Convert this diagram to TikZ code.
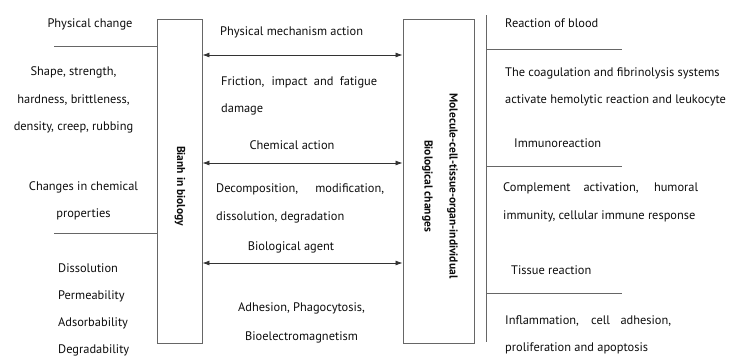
\documentclass[tikz,border=0pt]{standalone}
\usepackage{fontspec}
\setmainfont{PT Sans}
\usetikzlibrary{arrows.meta, positioning}

\begin{document}
\begin{tikzpicture}[
    x=1pt, y=-1pt,
    box/.style={draw=black!60, line width=0.9pt, minimum width=45pt, minimum height=324pt, inner sep=0pt},
    rule/.style={draw=black!60, line width=0.9pt},
    arrow/.style={{Latex[length=7pt,width=5pt]}-{Latex[length=7pt,width=5pt]}, line width=0.8pt, draw=black!80},
    txt/.style={font=\fontsize{12.4}{27.5}\selectfont, text=black!95, inner sep=0pt, align=center},
    ltxt/.style={txt, align=left, anchor=west},
    vtxt/.style={font=\bfseries\fontsize{11.5}{25}\selectfont, text=black!95, inner sep=0pt, align=center, rotate=-90}
  ]
  \useasboundingbox (0,0) rectangle (730,359);

  % the two boxes
  \node[box] (bianh) at (179.5,181) {};
  \node[box, minimum width=71pt] (chg) at (438.5,181) {};
  \node[vtxt] (bianhlbl) at (180,186) {Bianh in biology};
  \node[vtxt] (chglbl) at (440,186) {Molecule-cell-tissue-organ-individual\\Biological changes};

  % actions between the boxes
  \draw[arrow] (bianh.east |- 0,55) -- (chg.west |- 0,55);
  \draw[arrow] (bianh.east |- 0,163) -- (chg.west |- 0,163);
  \draw[arrow] (bianh.east |- 0,263) -- (chg.west |- 0,263);

  % rules on the left
  \draw[rule] (bianh.west |- 0,46) -- ++(-103,0);
  \draw[rule] (bianh.west |- 0,233) -- ++(-103,0);

  % rules on the right
  \coordinate (rvtop) at (486,15);
  \coordinate (rvbot) at (486,342);
  \draw[rule] (rvtop) -- (rvbot);
  \draw[rule] (rvtop |- 0,49) -- ++(136,0);
  \draw[rule] (rvtop |- 0,166) -- ++(136,0);
  \draw[rule] (rvtop |- 0,293) -- ++(136,0);

  % left texts
  \node[txt] (physchg) at (90,24) {Physical change};
  \node[txt] (physprop) at (73.5,100) {Shape, strength,\\hardness, brittleness,\\density, creep, rubbing};
  \node[txt] (chemchg) at (83.5,201) {Changes in chemical\\properties};
  \node[ltxt, font=\fontsize{12.4}{27}\selectfont] (chemprop) at (58,309.5) {Dissolution\\Permeability\\Adsorbability\\Degradability};

  % middle texts
  \node[ltxt] (physact) at (220,32) {Physical mechanism action};
  \node[ltxt] (physeff) at (221,96) {\makebox[156pt][s]{Friction, impact and fatigue}\\damage};
  \node[txt] (chemact) at (292,145) {Chemical action};
  \node[ltxt] (chemeff) at (216,203.5) {\makebox[168pt][s]{Decomposition, modification,}\\dissolution, degradation};
  \node[txt] (bioag) at (291,247) {Biological agent};
  \node[txt, font=\fontsize{12.4}{29}\selectfont] (bioeff) at (301.5,322.5) {Adhesion, Phagocytosis,\\Bioelectromagnetism};

  % right texts
  \node[ltxt] (blood) at (505,23) {Reaction of blood};
  \node[ltxt] (bloodeff) at (505,87) {The coagulation and fibrinolysis systems\\activate hemolytic reaction and leukocyte};
  \node[ltxt] (immuno) at (514,143) {Immunoreaction};
  \node[ltxt] (immunoeff) at (503,202.5) {\makebox[195pt][s]{Complement activation, humoral}\\immunity, cellular immune response};
  \node[ltxt] (tissue) at (511,270) {Tissue reaction};
  \node[ltxt] (tissueeff) at (505,335) {\makebox[166pt][s]{Inflammation, cell adhesion,}\\proliferation and apoptosis};
\end{tikzpicture}
\end{document}
